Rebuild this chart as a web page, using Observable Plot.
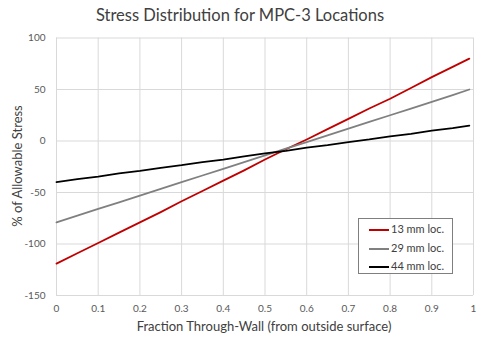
<!DOCTYPE html>
<html>
<head>
<meta charset="utf-8">
<script src="https://cdn.jsdelivr.net/npm/d3@7"></script>
<script src="https://cdn.jsdelivr.net/npm/@observablehq/plot@0.6"></script>
<style>
  html, body { margin: 0; padding: 0; background: #fff; }
  #wrap { position: relative; width: 483px; height: 343px; font-family: Lato, "Open Sans", sans-serif; color: #595959; overflow: hidden; }
  #title { position: absolute; left: 0; width: 480px; top: 5px; text-align: center; font-size: 16.5px; color: #404040; }
  #chart { position: absolute; left: 0; top: 30px; }
  #xlabel { position: absolute; left: 55px; width: 418px; top: 318px; text-align: center; font-size: 13px; color: #404040; }
  #ylabel { position: absolute; left: 17px; top: 166px; transform: translate(-50%, -50%) rotate(-90deg); white-space: nowrap; font-size: 13px; color: #404040; }
  #legend { position: absolute; left: 358px; top: 218px; width: 95px; height: 56px; border: 1px solid #7f7f7f; background: #fff; box-sizing: border-box; font-size: 11px; color: #404040; }
  .row { position: absolute; left: 10px; height: 14px; line-height: 14px; white-space: nowrap; }
  .sw { display: inline-block; width: 20px; height: 2px; vertical-align: middle; margin-right: 2px; }
</style>
</head>
<body>
<div id="wrap">
  <div id="title">Stress Distribution for MPC-3 Locations</div>
  <div id="chart"></div>
  <div id="xlabel">Fraction Through-Wall (from outside surface)</div>
  <div id="ylabel">% of Allowable Stress</div>
  <div id="legend"></div>
</div>
<script>
const fraction = [0, 0.05, 0.1, 0.15, 0.2, 0.25, 0.3, 0.35, 0.4, 0.45, 0.5, 0.55, 0.6, 0.65, 0.7, 0.75, 0.8, 0.85, 0.9, 0.95, 0.99];
const stress13 = [-119, -109, -99, -89, -79, -69, -58.5, -48.5, -38.5, -28.5, -18, -8, 1.5, 11.5, 21.5, 31.5, 41, 51.5, 62, 72, 80];
const stress29 = [-79, -72.5, -66, -59.5, -53, -46.5, -40, -33.5, -27, -20.5, -14, -7.5, -1, 5.5, 12, 18.5, 25, 31.5, 38, 44.5, 50];
const stress44 = [-40, -37, -34.5, -31.5, -29, -26, -23.5, -20.5, -18, -15, -12, -9.5, -6.5, -4, -1, 1.5, 4.5, 7, 10, 12.5, 15];
const seriesNames = ["13 mm loc.", "29 mm loc.", "44 mm loc."];
const seriesColors = ["#c00000", "#808080", "#000000"];
const xTicks = [0, 0.1, 0.2, 0.3, 0.4, 0.5, 0.6, 0.7, 0.8, 0.9, 1];
const yTicks = [-150, -100, -50, 0, 50, 100];

const seriesValues = [stress13, stress29, stress44];
const data = [];
seriesValues.forEach((vals, s) => vals.forEach((v, i) => data.push({series: seriesNames[s], x: fraction[i], y: v})));

const chart = Plot.plot({
  width: 483,
  height: 313,
  marginTop: 7.5,
  marginBottom: 48,
  marginLeft: 56,
  marginRight: 10,
  style: { fontFamily: "Lato, 'Open Sans', sans-serif", fontSize: "10px", color: "#595959", background: "transparent" },
  x: { domain: [0, 1] },
  y: { domain: [-150, 100] },
  color: { domain: seriesNames, range: seriesColors },
  marks: [
    Plot.gridX(xTicks, { stroke: "#d9d9d9", strokeOpacity: 1, strokeWidth: 1 }),
    Plot.gridY(yTicks, { stroke: "#d9d9d9", strokeOpacity: 1, strokeWidth: 1 }),
    Plot.axisX(xTicks, { tickSize: 0, tickPadding: 9, tickFormat: d => String(d), label: null, fill: "#595959" }),
    Plot.axisY(yTicks, { tickSize: 0, tickPadding: 11, tickFormat: d => String(d), label: null, fill: "#595959" }),
    Plot.line(data, { x: "x", y: "y", z: "series", stroke: "series", strokeWidth: 1.8, curve: "linear" })
  ]
});
document.getElementById("chart").appendChild(chart);

const legend = document.getElementById("legend");
seriesNames.forEach((name, i) => {
  const row = document.createElement("div");
  row.className = "row";
  row.style.top = (3 + i * 18.5) + "px";
  row.innerHTML = `<span class="sw" style="background:${seriesColors[i]}"></span>${name}`;
  legend.appendChild(row);
});
</script>
</body>
</html>
